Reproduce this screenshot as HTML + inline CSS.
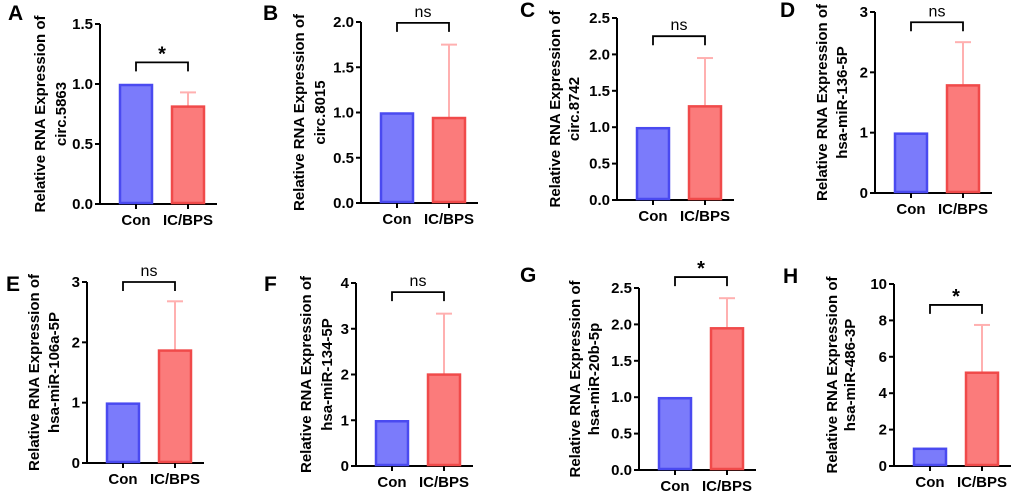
<!DOCTYPE html>
<html><head><meta charset="utf-8"><style>
body{margin:0;background:#fff;}
svg{display:block;font-family:"Liberation Sans",Arial,sans-serif;font-weight:bold;}
</style></head><body>
<svg id="c" width="1020" height="497" viewBox="0 0 1020 497" xmlns="http://www.w3.org/2000/svg"></svg>
<script>
const panelLetters=["A","B","C","D","E","F","G","H"];
const targetNames=["circ.5863","circ.8015","circ.8742","hsa-miR-136-5P","hsa-miR-106a-5P","hsa-miR-134-5P","hsa-miR-20b-5p","hsa-miR-486-3P"];
const categories=["Con","IC/BPS"];
const conValues=[1,1,1,1,1,1,1,1];
const icValues=[0.82,0.95,1.3,1.8,1.88,2.02,1.96,5.18];
const icErrors=[0.93,1.75,1.95,2.5,2.68,3.33,2.36,7.75];
const yMaxes=[1.5,2.0,2.5,3,3,4,2.5,10];
const tickSteps=[0.5,0.5,0.5,1,1,1,0.5,2];
const tickDecimals=[1,1,1,0,0,0,1,0];
const sigLabels=["*","ns","ns","ns","ns","ns","*","*"];
const sigLevels=[1.18,1.99,2.25,2.83,3.0,3.8,2.65,8.85];
// layout geometry (pixels)
const geo=[
 {ax:100,top:24,bot:204,t1:41,t2:62,lx:8,ly:20},
 {ax:361,top:22,bot:203,t1:300,t2:321,lx:263,ly:20},
 {ax:617,top:18,bot:200,t1:556,t2:575,lx:520,ly:17},
 {ax:875,top:12,bot:193,t1:823,t2:843,lx:780,ly:17},
 {ax:87,top:282,bot:463,t1:35,t2:55,lx:6,ly:291},
 {ax:356,top:283,bot:466,t1:307,t2:328,lx:264,ly:291},
 {ax:639,top:288,bot:470,t1:576,t2:595,lx:520,ly:282},
 {ax:894,top:284,bot:466,t1:833,t2:851,lx:783,ly:283}
];
const svg=document.getElementById('c');
const NS="http://www.w3.org/2000/svg";
function mk(t,a,txt){const e=document.createElementNS(NS,t);for(const k in a)e.setAttribute(k,a[k]);if(txt!==undefined)e.textContent=txt;svg.appendChild(e);return e;}
for(let p=0;p<8;p++){
 const g=geo[p];
 const y=v=>g.bot-(v/yMaxes[p])*(g.bot-g.top);
 const xs=[g.ax+36,g.ax+88];
 const bw=34;
 let e;
 e=mk('text',{x:g.lx,y:g.ly,'font-size':21,fill:'#000'},panelLetters[p]);
 
 
 const mid=(g.top+g.bot)/2;
 e=mk('text',{x:g.t1,y:mid,'font-size':15,'text-anchor':'middle','dominant-baseline':'middle',transform:`rotate(-90 ${g.t1} ${mid})`},'Relative RNA Expression of');
 
 
 e=mk('text',{x:g.t2,y:mid,'font-size':15,'text-anchor':'middle','dominant-baseline':'middle',transform:`rotate(-90 ${g.t2} ${mid})`},targetNames[p]);
 
 
 e=mk('line',{x1:g.ax,y1:g.top,x2:g.ax,y2:g.bot,stroke:'#000','stroke-width':2});
 
 
 e=mk('line',{x1:g.ax-1,y1:g.bot,x2:g.ax+117,y2:g.bot,stroke:'#000','stroke-width':2});
 
 
 for(let v=0;v<=yMaxes[p]+1e-9;v+=tickSteps[p]){
  mk('line',{x1:g.ax-5,y1:y(v),x2:g.ax,y2:y(v),stroke:'#000','stroke-width':2});
  e=mk('text',{x:g.ax-7,y:y(v)+5,'font-size':15,'text-anchor':'end'},v.toFixed(tickDecimals[p]));
  
  
 }
 const vals=[conValues[p],icValues[p]];
 const fills=['#7b7bfb','#fb7b7b'],strokes=['#4a4af0','#f04a4a'];
 e=mk('line',{x1:xs[1],y1:y(icErrors[p]),x2:xs[1],y2:y(icValues[p]),stroke:'#ffb0b0','stroke-width':2});
 
 
 mk('line',{x1:xs[1]-8,y1:y(icErrors[p]),x2:xs[1]+8,y2:y(icErrors[p]),stroke:'#ffb0b0','stroke-width':2});
 for(let i=0;i<2;i++){
  e=mk('rect',{x:xs[i]-bw/2+1,y:y(vals[i])+1,width:bw-2,height:g.bot-y(vals[i])-2,fill:fills[i],stroke:strokes[i],'stroke-width':2.5});
  
  
  mk('line',{x1:xs[i],y1:g.bot,x2:xs[i],y2:g.bot+5,stroke:'#000','stroke-width':2});
  e=mk('text',{x:xs[i],y:g.bot+21,'font-size':15,'text-anchor':'middle'},categories[i]);
  
  
 }
 const by=y(sigLevels[p]);
 e=mk('path',{d:`M${xs[0]} ${by+9} V${by} H${xs[1]} V${by+9}`,fill:'none',stroke:'#000','stroke-width':1.8});
 
 
 const star=sigLabels[p]==='*';
 e=mk('text',{x:(xs[0]+xs[1])/2,y:star?by-2:by-6,'font-size':star?20:16,'font-weight':star?'bold':'normal','text-anchor':'middle'},sigLabels[p]);
 
 
}
</script>
</body></html>
